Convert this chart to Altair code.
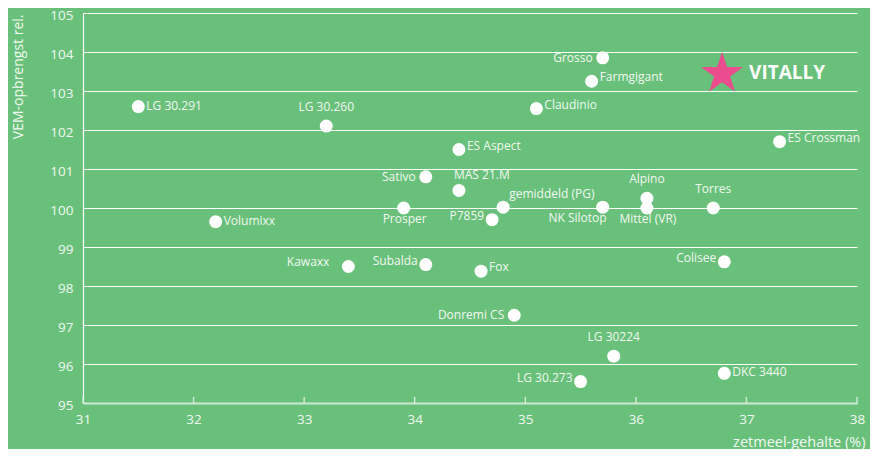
import altair as alt
import pandas as pd

# ---- data ----
names = ["LG 30.291", "LG 30.260", "Claudinio", "Grosso", "Farmgigant", "ES Crossman",
         "ES Aspect", "Volumixx", "Sativo", "MAS 21.M", "Prosper", "gemiddeld (PG)",
         "P7859", "Kawaxx", "Subalda", "Fox", "NK Silotop", "Alpino", "Mittel (VR)",
         "Torres", "Colisee", "Donremi CS", "LG 30224", "LG 30.273", "DKC 3440"]
zetmeel = [31.5, 33.2, 35.1, 35.7, 35.6, 37.3,
           34.4, 32.2, 34.1, 34.4, 33.9, 34.8,
           34.7, 33.4, 34.1, 34.6, 35.7, 36.1, 36.1,
           36.7, 36.8, 34.9, 35.8, 35.5, 36.8]
vem = [102.6, 102.1, 102.55, 103.85, 103.25, 101.7,
       101.5, 99.65, 100.8, 100.45, 100.0, 100.02,
       99.7, 98.5, 98.55, 98.38, 100.02, 100.25, 100.0,
       100.0, 98.62, 97.25, 96.2, 95.55, 95.76]

star_name = ["VITALLY"]
star_x = [36.78]
star_y = [103.44]

x_ticks = [31, 32, 33, 34, 35, 36, 37, 38]
y_ticks = [95, 96, 97, 98, 99, 100, 101, 102, 103, 104, 105]

# label placement groups
right_mid = ["LG 30.291", "Volumixx", "DKC 3440"]
right_up = ["Claudinio", "Farmgigant", "ES Crossman", "ES Aspect", "Fox"]
left_mid = ["Grosso", "Sativo", "Donremi CS"]
left_up = ["P7859", "Subalda", "Colisee", "LG 30.273"]
left_far = ["Kawaxx"]
above = ["LG 30.260", "Alpino", "Torres", "LG 30224"]
above_start = ["MAS 21.M"]
above_right = ["gemiddeld (PG)"]
below = ["Prosper", "Mittel (VR)"]
below_left = ["NK Silotop"]

df = pd.DataFrame({"name": names, "x": zetmeel, "y": vem})
sdf = pd.DataFrame({"name": star_name, "x": star_x, "y": star_y})
tdf = pd.DataFrame({"x": x_ticks})

W, H = 774, 390
FONT = "Open Sans"
LBL = "#f2f8f3"
BG = "#68c07a"
AXL = "#cfe9d4"
STAR_PATH = ("M0,-1 L0.2245,-0.309 L0.951,-0.309 L0.3633,0.118 L0.588,0.809 "
             "L0,0.382 L-0.588,0.809 L-0.3633,0.118 L-0.951,-0.309 L-0.2245,-0.309 Z")

xs = alt.Scale(domain=[31, 38], nice=False, zero=False)
ys = alt.Scale(domain=[95, 105], nice=False, zero=False)

x_axis = alt.Axis(
    values=x_ticks, title="zetmeel-gehalte (%)", grid=False,
    domainColor=AXL, domainWidth=2, ticks=False, labelFlush=False,
    labelPadding=9, labelFontSize=13.5, labelColor=LBL, labelFont=FONT,
    titleFont=FONT, titleFontSize=14.5, titleColor=LBL, titleFontWeight="normal",
    titleX=782, titleY=39, titleAlign="right", titleBaseline="middle")
y_axis = alt.Axis(
    values=y_ticks, title="VEM-opbrengst rel.", grid=True,
    gridColor="white", gridWidth=1.2, domainColor="white", domainWidth=1.2,
    ticks=False, labelFlush=False, labelPadding=10, labelOffset=2.5,
    labelFontSize=13.5, labelColor=LBL, labelFont=FONT, titleFont=FONT,
    titleFontSize=14, titleColor=LBL, titleFontWeight="normal", titleX=-65,
    titleY=1, titleAngle=270, titleAlign="right", titleBaseline="middle")

X = alt.X("x:Q", scale=xs, axis=x_axis)
Y = alt.Y("y:Q", scale=ys, axis=y_axis)

base = alt.Chart(df)

points = base.mark_circle(size=169, color="white", opacity=1).encode(x=X, y=Y)

ticks = alt.Chart(tdf).mark_rule(color=AXL, strokeWidth=1.5).encode(
    x=X,
    y=alt.value(H - 6),
    y2=alt.value(H),
)


def labels(group, align, dx, dy):
    return base.transform_filter(
        alt.FieldOneOfPredicate(field="name", oneOf=group)
    ).mark_text(
        align=align, baseline="middle", dx=dx, dy=dy, font=FONT,
        fontSize=12, color=LBL
    ).encode(x=X, y=Y, text="name:N")


label_layers = [
    labels(right_mid, "left", 8, -1),
    labels(right_up, "left", 8, -4),
    labels(left_mid, "right", -10, 0),
    labels(left_up, "right", -8, -4),
    labels(left_far, "right", -19, -5),
    labels(above, "center", 0, -19),
    labels(above_start, "left", -5, -15),
    labels(above_right, "left", 6, -13),
    labels(below, "center", 1, 11),
    labels(below_left, "right", 4, 11),
]

sbase = alt.Chart(sdf)
star = sbase.mark_point(shape=STAR_PATH, filled=True, size=1950, color="#ea4c8d",
                        opacity=1).encode(x=X, y=Y)
star_text = sbase.mark_text(align="left", baseline="middle", dx=27, dy=-1,
                            font=FONT, fontSize=19, fontWeight="bold",
                            color="white").encode(x=X, y=Y, text="name:N")

chart = alt.layer(points, ticks, *label_layers, star, star_text).properties(
    width=W, height=H,
    autosize=alt.AutoSizeParams(type="none"),
    padding={"left": 75, "top": 5, "right": 13, "bottom": 46},
    background=BG,
).configure_view(stroke=None)

chart.save("out.html", embed_options={"renderer": "svg", "actions": False})
